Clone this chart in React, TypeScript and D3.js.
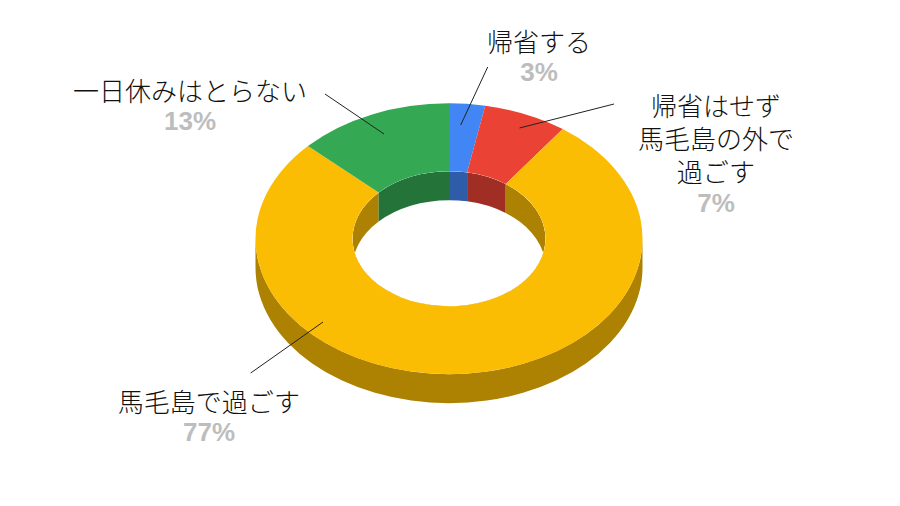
import * as d3 from 'd3';
import React from 'react';

const categories = ['帰省する', '帰省はせず馬毛島の外で過ごす', '馬毛島で過ごす', '一日休みはとらない'];
const values = [3, 7, 77, 13];
const percentLabels = ['3%', '7%', '77%', '13%'];
const colors = ['#4285f4', '#ea4335', '#fbbc04', '#34a853'];

// label placement: wrapped lines, centre x, first baseline, leader line
const labelLines = [['帰省する'], ['帰省はせず', '馬毛島の外で', '過ごす'], ['馬毛島で過ごす'], ['一日休みはとらない']];
const labelX = [539, 716, 209, 190];
const labelY = [52, 116, 412, 101];
const leaders = [
  [460.7, 125, 487.7, 67],
  [519.5, 128, 614, 104],
  [323, 322, 250.7, 373],
  [384, 134, 325, 94],
];

const width = 900;
const height = 506;
const cx = 449;
const cy = 238.7;
const R = 193.5;
const r = 96.5;
const tilt = 0.7;
const depth = 29 / tilt; // in the flattened group's units
const lineGap = 33;

const shade = (c: string) => {
  const q = d3.rgb(c);
  return d3.rgb(q.r * 0.69, q.g * 0.69, q.b * 0.69).formatHex();
};

const toCanvas = (a: number) => a - Math.PI / 2;

// front outer wall of the ring
const outerWall = () => {
  const p = d3.path();
  p.moveTo(-R, 0);
  p.arc(0, 0, R, Math.PI, 0, true);
  p.lineTo(R, depth);
  p.arc(0, depth, R, 0, Math.PI, false);
  p.closePath();
  return p.toString();
};

// inner wall of one slice, clipped later to the hole
const innerWall = (a0: number, a1: number) => {
  const p = d3.path();
  p.arc(0, 0, r, toCanvas(a0), toCanvas(a1), false);
  p.arc(0, depth, r, toCanvas(a1), toCanvas(a0), true);
  p.closePath();
  return p.toString();
};

export default function App() {
  const pie = d3.pie<number>().sort(null).value((d) => d)(values);
  const arc = d3.arc<d3.PieArcDatum<number>>().innerRadius(r).outerRadius(R);
  const ringTransform = `translate(${cx},${cy}) scale(1,${tilt})`;

  return (
    <svg
      width={width}
      height={height}
      viewBox={`0 0 ${width} ${height}`}
      style={{ position: 'absolute', left: 0, top: 0, background: '#fff' }}
      aria-label={categories.join(', ')}
    >
      <defs>
        <clipPath id="hole">
          <ellipse cx={cx} cy={cy} rx={r} ry={r * tilt} />
        </clipPath>
      </defs>

      <g transform={ringTransform}>
        <path d={outerWall()} fill={shade(colors[2])} />
      </g>

      <g clipPath="url(#hole)">
        <g transform={ringTransform}>
          {pie.map((d, i) => (
            <path key={i} d={innerWall(d.startAngle, d.endAngle)} fill={shade(colors[i])} />
          ))}
        </g>
      </g>

      <g transform={ringTransform}>
        {pie.map((d, i) => (
          <path key={i} d={arc(d) ?? ''} fill={colors[i]} />
        ))}
      </g>

      {leaders.map((l, i) => (
        <line key={i} x1={l[0]} y1={l[1]} x2={l[2]} y2={l[3]} stroke="#222" strokeWidth={1} />
      ))}

      {labelLines.map((lines, i) => (
        <g key={i} textAnchor="middle">
          {lines.map((t, j) => (
            <text
              key={j}
              x={labelX[i]}
              y={labelY[i] + j * lineGap}
              fontFamily='"Noto Sans CJK JP", sans-serif'
              fontSize={26}
              fontWeight={300}
              fill="#111"
            >
              {t}
            </text>
          ))}
          <text
            x={labelX[i]}
            y={labelY[i] + lines.length * lineGap - (lines.length > 1 ? 3 : 4)}
            fontFamily='"Liberation Sans", Arial, sans-serif'
            fontSize={26}
            fontWeight={700}
            fill="#bdbdbd"
          >
            {percentLabels[i]}
          </text>
        </g>
      ))}
    </svg>
  );
}
